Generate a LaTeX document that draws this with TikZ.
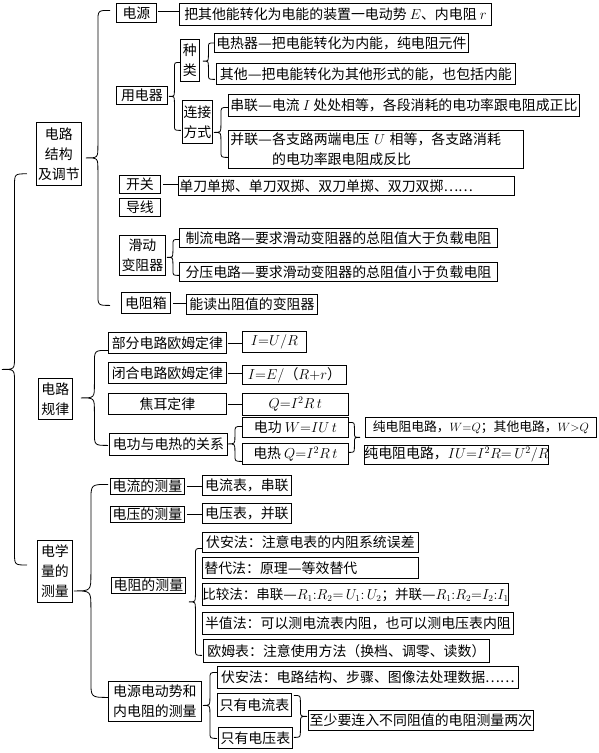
\documentclass[tikz,border=0pt]{standalone}
\usepackage{fontspec}
\newfontfamily\cjk{Noto Sans CJK SC}
\usetikzlibrary{calc}
\newcommand\dsh{\resizebox{1em}{\height}{—}}
\tikzset{
  box/.style={draw, line width=0.8pt, inner sep=0pt, anchor=north west, align=center,
    font={\fontsize{13.9pt}{20pt}\selectfont\cjk}},
  line/.style={line width=0.8pt},
}
\newcommand\Brace[3]{%
  \path #1; \pgfgetlastxy{\Btx}{\Bty}%
  \path #2; \pgfgetlastxy{\Bax}{\Bay}%
  \path #3; \pgfgetlastxy{\Bbx}{\Bby}%
  \pgfmathsetmacro\Bmx{(\Btx+\Bax)/2}%
  \pgfmathsetmacro\Bmy{(\Bay+\Bby)/2}%
  \pgfmathsetmacro\Br{abs(\Bax-\Btx)/2}%
  \draw[line] (\Bax,\Bay) .. controls (\Bmx pt,\Bay) .. (\Bmx pt,\Bay-\Br pt)
    -- (\Bmx pt,\Bmy pt+\Br pt) .. controls (\Bmx pt,\Bmy pt) .. (\Btx,\Bmy pt)
    .. controls (\Bmx pt,\Bmy pt) .. (\Bmx pt,\Bmy pt-\Br pt)
    -- (\Bmx pt,\Bby+\Br pt) .. controls (\Bmx pt,\Bby) .. (\Bbx,\Bby);}
\begin{document}
\begin{tikzpicture}[x=1pt,y=-1pt]
\useasboundingbox (0,0) rectangle (598,753);
% ---------- 电路结构及调节 ----------
\node[box, minimum width=45pt, minimum height=63pt] (root1) at (36,122) {电路\\结构\\及调节};
\node[box, minimum width=40pt, minimum height=19pt] (src) at (116,3) {电源};
\node[box, minimum width=312pt, minimum height=22pt] (srcT) at (179,3) {把其他能转化为电能的装置一电动势 $E$、内电阻 $r$};
\node[box, minimum width=51pt, minimum height=18pt] (user) at (116,86) {用电器};
\node[box, minimum width=19pt, minimum height=42pt] (kind) at (180,39) {种\\类};
\node[box, minimum width=254pt, minimum height=19pt] (heat) at (214,33) {电热器\dsh 把电能转化为内能，纯电阻元件};
\node[box, minimum width=299pt, minimum height=21pt] (other) at (216,63) {其他\dsh 把电能转化为其他形式的能，也包括内能};
\node[box, minimum width=30pt, minimum height=43pt] (conn) at (182,100) {连接\\方式};
\node[box, minimum width=351pt, minimum height=22pt] (ser) at (228,94) {串联\dsh 电流 $I$ 处处相等，各段消耗的电功率跟电阻成正比};
\node[box, inner xsep=2pt, text width=291pt, align=left, minimum height=38pt] (par) at (228,130) {并联\dsh 各支路两端电压 $U$ 相等，各支路消耗\\\hspace*{3em}的电功率跟电阻成反比};
\node[box, minimum width=41pt, minimum height=18pt] (sw) at (119,175) {开关};
\node[box, inner xsep=1pt, text width=334pt, align=left, minimum height=19pt] (swT) at (178,176) {单刀单掷、单刀双掷、双刀单掷、双刀双掷……};
\node[box, minimum width=41pt, minimum height=18pt] (wire) at (119,198) {导线};
\node[box, minimum width=46pt, minimum height=40pt] (rheo) at (119,235) {滑动\\变阻器};
\node[box, minimum width=318pt, minimum height=19pt] (lim) at (179,228) {制流电路\dsh 要求滑动变阻器的总阻值大于负载电阻};
\node[box, minimum width=318pt, minimum height=19pt] (div) at (179,262) {分压电路\dsh 要求滑动变阻器的总阻值小于负载电阻};
\node[box, minimum width=49pt, minimum height=21pt] (rbox) at (121,292) {电阻箱};
\node[box, minimum width=131pt, minimum height=20pt] (rboxT) at (186,294) {能读出阻值的变阻器};
% ---------- 电路规律 ----------
\node[box, minimum width=34pt, minimum height=41pt] (root2) at (38,378) {电路\\规律};
\node[box, minimum width=118pt, minimum height=21pt] (ohm1) at (108,332) {部分电路欧姆定律};
\node[box, minimum width=64pt, minimum height=21pt] (ohm1T) at (242,331) {$I{=}U/R$};
\node[box, minimum width=118pt, minimum height=21pt] (ohm2) at (108,362) {闭合电路欧姆定律};
\node[box, minimum width=104pt, minimum height=19pt] (ohm2T) at (242,365) {$I{=}E/$（$R{+}r$）};
\node[box, minimum width=118pt, minimum height=21pt] (joule) at (108,393) {焦耳定律};
\node[box, minimum width=106pt, minimum height=22pt] (jouleT) at (242,393) {$Q{=}I^2R\,t$};
\node[box, minimum width=118pt, minimum height=22pt] (pw) at (109,433) {电功与电热的关系};
\node[box, minimum width=106pt, minimum height=20pt] (pwW) at (242,417) {电功 $W{=}IU\,t$};
\node[box, minimum width=106pt, minimum height=21pt] (pwQ) at (242,443) {电热 $Q{=}I^2R\,t$};
\node[box, minimum width=231pt, minimum height=20pt, font={\fontsize{12.8pt}{20pt}\selectfont\cjk}] (pwR1) at (365,417) {纯电阻电路，$W{=}Q$；其他电路，$W{>}Q$};
\node[box, minimum width=176pt, minimum height=19pt] (pwR2) at (364,445) {纯电阻电路，$IU{=}I^2R{=}\,U^2/R$};
% ---------- 电学量的测量 ----------
\node[box, minimum width=35pt, minimum height=62pt] (root3) at (37,540) {电学\\量的\\测量};
\node[box, minimum width=74pt, minimum height=16pt] (mI) at (110,478) {电流的测量};
\node[box, minimum width=89pt, minimum height=20pt] (mIT) at (202,475) {电流表，串联};
\node[box, minimum width=74pt, minimum height=16pt] (mU) at (110,506) {电压的测量};
\node[box, minimum width=89pt, minimum height=20pt] (mUT) at (202,503) {电压表，并联};
\node[box, minimum width=74pt, minimum height=16pt] (mR) at (111,577) {电阻的测量};
\node[box, minimum width=216pt, minimum height=20pt] (r1) at (202,532) {伏安法：注意电表的内阻系统误差};
\node[box, inner xsep=2pt, text width=212pt, align=left, minimum height=21pt] (r2) at (202,557) {替代法：原理\dsh 等效替代};
\node[box, minimum width=299pt, minimum height=22pt, font={\fontsize{13.5pt}{20pt}\selectfont\cjk}] (r3) at (202,583) {比较法：串联\dsh $R_1{:}R_2{=}\,U_1{:}\,U_2$；并联\dsh $R_1{:}R_2{=}I_2{:}I_1$};
\node[box, minimum width=311pt, minimum height=22pt] (r4) at (202,612) {半值法：可以测电流表内阻，也可以测电压表内阻};
\node[box, minimum width=286pt, minimum height=23pt] (r5) at (203,639) {欧姆表：注意使用方法（换档、调零、读数）};
\node[box, minimum width=93pt, minimum height=40pt] (mE) at (108,681) {电源电动势和\\内电阻的测量};
\node[box, minimum width=301pt, minimum height=22pt] (e1) at (217,666) {伏安法：电路结构、步骤、图像法处理数据……};
\node[box, minimum width=74pt, minimum height=23pt] (e2) at (217,693) {只有电流表};
\node[box, minimum width=74pt, minimum height=21pt] (e3) at (218,727) {只有电压表};
\node[box, minimum width=225pt, minimum height=20pt] (e4) at (308,710) {至少要连入不同阻值的电阻测量两次};
% ---------- straight connectors ----------
\draw[line] ([xshift=1pt,yshift=1.5pt]src.east) -- ([yshift=1.5pt]src.east -| srcT.west);
\draw[line] ([xshift=2pt]sw.east) -- (sw.east -| swT.west);
\draw[line] ([xshift=2pt]rbox.east) -- (rbox.east -| rboxT.west);
\draw[line] ([xshift=1pt]ohm1.east) -- (ohm1.east -| ohm1T.west);
\draw[line] ([xshift=1pt]ohm2.east) -- (ohm2.east -| ohm2T.west);
\draw[line] ([xshift=1pt]joule.east) -- (joule.east -| jouleT.west);
\draw[line] ([xshift=2pt]mI.east) -- (mI.east -| mIT.west);
\draw[line] ([xshift=2pt]mU.east) -- (mU.east -| mUT.west);
% ---------- braces ----------
\coordinate (rootTip) at (2,370);
\Brace{(rootTip)}{([shift={(-9pt,12pt)}]root1.south west)}{([shift={(-10pt,-25pt)}]root3.north west)}
\Brace{([xshift=4pt]root1.east)}{([shift={(-6pt,2.5pt)}]src.west)}{([shift={(-11pt,-2.5pt)}]rbox.west)}
\Brace{([xshift=3pt]kind.east)}{(heat.west)}{([shift={(-1pt,-5.5pt)}]other.west)}
\Brace{([xshift=1pt]user.east)}{([yshift=-2pt]kind.west)}{([shift={(-1pt,-8.5pt)}]conn.west)}
\Brace{([xshift=1pt]conn.east)}{([yshift=-2pt]ser.west)}{([yshift=-8pt]par.west)}
\Brace{([xshift=1pt]rheo.east)}{([yshift=-1.5pt]lim.west)}{([yshift=-3.5pt]div.west)}
\Brace{([xshift=8pt]root2.east)}{([yshift=-7.5pt]ohm1.west)}{([shift={(-1pt,-1pt)}]pw.west)}
\Brace{(pw.east)}{([yshift=1pt]pwW.west)}{([yshift=-7.5pt]pwQ.west)}
\Brace{([xshift=-5pt]pwR1.west)}{([yshift=5pt]pwW.east)}{([yshift=1.5pt]pwQ.east)}
\Brace{([xshift=1pt]root3.east)}{([shift={(-2pt,2pt)}]mI.west)}{([yshift=4pt]mE.west)}
\Brace{([xshift=3pt]mR.east)}{([yshift=-6pt]r1.west)}{([shift={(-1pt,-4.5pt)}]r5.west)}
\Brace{([xshift=1pt]mE.east)}{([yshift=5pt]e1.west)}{([shift={(-1pt,-0.5pt)}]e3.west)}
\Brace{([xshift=-1pt]e4.west)}{([shift={(2pt,9.5pt)}]e2.east)}{([shift={(1pt,0.5pt)}]e3.east)}
\end{tikzpicture}
\end{document}
